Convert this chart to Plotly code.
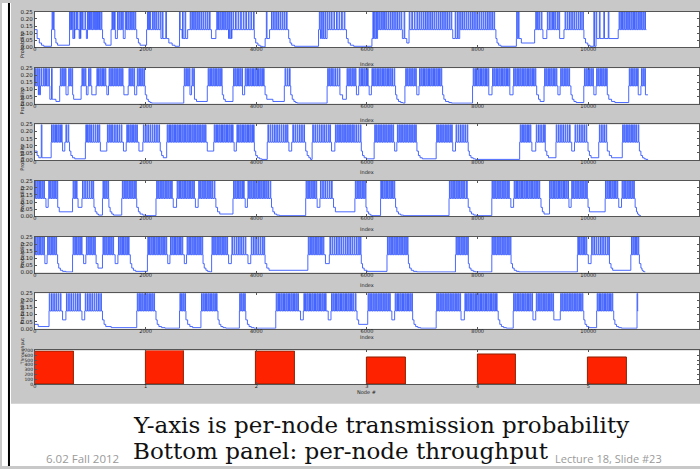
import numpy as np
import plotly.graph_objects as go

W, H = 700, 469

index_ticks = [0, 2000, 4000, 6000, 8000, 10000, 12000]
prob_ticks = [0.0, 0.05, 0.10, 0.15, 0.20, 0.25]
node_ids = [0, 1, 2, 3, 4, 5]
throughput = [685, 690, 675, 550, 625, 555]
node_ticks = [0, 1, 2, 3, 4, 5, 6]
thr_ticks = [0, 100, 200, 300, 400, 500, 600, 700]

# ---- per-node transmission probability: baseline steps (index, p), spikes to 0.25, end index
n1_base = [(0,.125),(40,.0625),(80,.031),(120,.0156),(160,.008),(300,.125),(360,.0625),(380,.031),(410,.0156),
 (626,.125),(680,.0625),(720,.125),(800,.0625),(830,.125),(930,.0625),(950,.125),(1222,.0625),(1250,.031),(1280,.0156),
 (1376,.125),(1454,.0625),(1490,.125),(1590,.0625),(1630,.125),(1840,.0625),(1870,.031),(1900,.0156),
 (2018,.125),(2265,.0625),(2420,.031),(2480,.0156),(2530,.008),(2613,.125),(2660,.0625),(2760,.125),
 (3190,.0625),(3270,.125),(3500,.0625),(3560,.125),(3965,.0625),(3990,.031),(4030,.0156),(4070,.008),(4110,.004),
 (4160,.0625),(4240,.125),(4585,.0625),(4610,.031),(4640,.0156),(4690,.008),(5125,.125),(5160,.0625),(5280,.125),
 (5630,.0625),(5660,.031),(5700,.0156),(5760,.008),(6090,.0625),(6200,.125),(6640,.0625),(6720,.031),(6760,.125),
 (7550,.0625),(7680,.125),(8330,.0625),(8350,.031),(8380,.0156),(8420,.008),(8700,.0625),(8790,.031),(9030,.125),
 (9180,.0625),(9250,.125),(9480,.0625),(9560,.125),(9920,.0625),(9950,.031),(9990,.0156),(10030,.008),
 (10150,.0625),(10540,.125)]
n1_spikes = [310, 335, 626, 650, 673, 704, 742, 765, 812, 835, 858, 905, 951, 974, 997, 1020, 1050, 1074, 1098, 1121,
 1144, 1167, 1198, 1392, 1415, 1438, 1492, 1523, 1554, 1585, 1632, 1655, 1686, 1717, 1748, 1779, 1810,
 2034, 2057, 2080, 2126, 2157, 2188, 2226, 2265, 2303, 2365, 2613, 2667, 2713, 2806, 2837, 2868, 2899, 2930, 2961,
 3000, 3038, 3077, 3115, 3154, 3286, 3317, 3348, 3379, 3410, 3441, 3472, 3503, 3540, 3580, 3625, 3672, 3718, 3765,
 3811, 3857, 3904, 3950, 4182, 4275, 4313, 4352, 4390, 4429, 4468, 4506, 4545, 5140, 5171, 5202, 5241, 5280, 5318,
 5357, 5403, 5450, 5496, 5542, 5589, 6107, 6130, 6161, 6192, 6223, 6254, 6285, 6316, 6347, 6385, 6424, 6463, 6501,
 6540, 6579, 6617, 6671, 6764, 6810, 6856, 6903, 6942, 6980, 7019, 7058, 7096, 7135, 7173, 7212, 7251, 7290, 7328,
 7367, 7405, 7444, 7483, 7521, 7595, 7637, 7676, 7715, 7753, 7792, 7830, 7869, 7908, 7946, 7985, 8024, 8063, 8101,
 8140, 8179, 8217, 8256, 8295, 8705, 8736, 9050, 9080, 9110, 9150, 9260, 9300, 9340, 9370, 9400, 9440, 9470, 9580,
 9620, 9660, 9700, 9740, 9780, 9820, 9860, 9900, 10100, 10140, 10200, 10280, 10360, 10556, 10587, 10618, 10649,
 10680, 10711, 10742, 10773, 10804, 10835, 10866, 10897, 10928, 10959, 10990, 11021]
n1_end = 11050

n2_base = [(0,.125),(62,.0625),(101,.125),(270,.031),(333,.031),(380,.0156),(448,.125),(560,.0625),(600,.125),
 (680,.0625),(700,.031),(835,.125),(930,.0625),(960,.125),(1028,.0625),(1106,.125),(1300,.0625),(1330,.125),
 (1608,.0625),(1685,.125),(1800,.0625),(1840,.125),(1994,.0625),(2020,.031),(2050,.0156),(2080,.008),(2110,.004),
 (2690,.125),(2800,.0625),(2830,.125),(2883,.031),(2920,.0156),(3115,.125),(3386,.0625),(3410,.031),(3440,.0156),
 (3579,.125),(3750,.0625),(3790,.125),(4159,.0625),(4190,.031),(4300,.0156),(4507,.125),(4623,.0625),(4650,.031),
 (4680,.0156),(4710,.008),(4740,.004),(5280,.125),(5512,.0625),(5560,.031),(5628,.125),(5810,.0625),(5850,.125),
 (6040,.0625),(6080,.125),(6517,.0625),(6540,.031),(6570,.0156),(6610,.008),(6650,.004),(6686,.125),(6900,.0625),
 (6940,.125),(7367,.0625),(7390,.031),(7420,.0156),(7480,.008),(7530,.004),(7908,.125),(8200,.0625),(8260,.125),
 (8580,.0625),(8640,.125),(9067,.0625),(9100,.031),(9130,.0156),(9200,.125),(9450,.0625),(9490,.125),(9686,.0625),
 (9710,.031),(9740,.0156),(9780,.008),(9918,.125),(10100,.0625),(10140,.125),(10343,.0625),(10370,.031),
 (10420,.0156),(10480,.008),(10730,.125),(10900,.0625),(10950,.125),(11020,.0625)]
n2_spikes = [10, 40, 70, 110, 150, 180, 210, 250, 300, 460, 490, 520, 550, 610, 640, 670, 850, 880, 910, 970, 1000,
 1120, 1150, 1180, 1210, 1240, 1270, 1340, 1370, 1400, 1430, 1460, 1490, 1520, 1550, 1580, 1700, 1730, 1760, 1790,
 1850, 1880, 1910, 1940, 1970, 2700, 2730, 2760, 2790, 2840, 2870, 3130, 3160, 3190, 3220, 3250, 3280, 3310, 3340,
 3370, 3590, 3620, 3650, 3680, 3710, 3740, 3800, 3830, 3860, 3890, 3920, 3950, 3980, 4010, 4040, 4070, 4100, 4130,
 4520, 4560, 4600, 5290, 5320, 5350, 5380, 5420, 5460, 5500, 5640, 5670, 5700, 5730, 5760, 5790, 5860, 5890, 5920,
 5950, 5980, 6010, 6090, 6120, 6150, 6180, 6210, 6240, 6270, 6300, 6330, 6360, 6390, 6420, 6450, 6490, 6700, 6730,
 6760, 6790, 6820, 6850, 6880, 6950, 6980, 7010, 7040, 7070, 7100, 7130, 7160, 7190, 7220, 7250, 7280, 7310, 7340,
 7920, 7950, 7980, 8010, 8040, 8070, 8100, 8130, 8160, 8190, 8270, 8300, 8330, 8360, 8390, 8420, 8450, 8480, 8510,
 8540, 8570, 8650, 8680, 8710, 8740, 8770, 8800, 8830, 8860, 8890, 8920, 8950, 8980, 9010, 9040, 9210, 9240, 9270,
 9300, 9330, 9360, 9390, 9420, 9500, 9530, 9560, 9590, 9620, 9650, 9930, 9960, 9990, 10020, 10050, 10080, 10150,
 10180, 10210, 10240, 10270, 10300, 10330, 10740, 10770, 10800, 10830, 10860, 10890, 10960, 10990, 11020]
n2_end = 11077

n3_base = [(0,.0625),(40,.031),(70,.0156),(294,.125),(500,.0625),(540,.125),(626,.0625),(650,.031),(680,.0156),
 (720,.008),(912,.125),(1183,.0625),(1299,.125),(1600,.0625),(1650,.125),(1880,.0625),(1950,.125),(2265,.0625),
 (2290,.031),(2320,.0156),(2381,.125),(3115,.0625),(3231,.125),(3600,.0625),(3640,.125),(3966,.0625),(3990,.031),
 (4020,.0156),(4060,.008),(4100,.004),(4198,.125),(4590,.0625),(4640,.125),(4893,.0625),(4920,.031),(4950,.0156),
 (4980,.004),(5009,.125),(5360,.0625),(5420,.125),(5898,.0625),(5920,.031),(5950,.0156),(5990,.008),(6130,.125),
 (6500,.0625),(6540,.125),(6903,.0625),(6930,.031),(6960,.0156),(7000,.008),(7251,.125),(7550,.0625),(7600,.125),
 (7830,.0625),(7850,.031),(7880,.0156),(7920,.008),(7960,.004),(8759,.125),(8980,.0625),(9050,.125),(9222,.0625),
 (9250,.031),(9280,.0156),(9415,.125),(9700,.0625),(9750,.125),(9995,.0625),(10020,.031),(10050,.0156),
 (10188,.125),(10343,.0625),(10380,.031),(10420,.0156),(10614,.125),(10923,.0625),(10950,.031),(10980,.0156),
 (11010,.008),(11040,.004)]
n3_spikes = [115, 300, 330, 360, 390, 420, 450, 480, 560, 600, 920, 950, 980, 1010, 1050, 1090, 1130, 1160, 1310,
 1340, 1370, 1400, 1440, 1480, 1520, 1560, 1660, 1690, 1720, 1750, 1780, 1810, 1840, 1960, 2000, 2040, 2080, 2120,
 2160, 2200, 2240, 2390, 2420, 2450, 2480, 2510, 2540, 2570, 2600, 2630, 2660, 2690, 2720, 2750, 2780, 2810, 2840,
 2870, 2900, 2930, 2960, 2990, 3020, 3050, 3080, 3240, 3270, 3300, 3330, 3360, 3390, 3420, 3450, 3480, 3510, 3540,
 3570, 3650, 3680, 3710, 3740, 3770, 3800, 3830, 3860, 3890, 3920, 3950, 4210, 4250, 4290, 4330, 4370, 4410, 4450,
 4490, 4530, 4560, 4660, 4700, 4740, 4780, 4820, 4860, 5020, 5060, 5100, 5140, 5180, 5220, 5260, 5300, 5330, 5430,
 5460, 5490, 5520, 5550, 5580, 5610, 5640, 5670, 5700, 5730, 5760, 5800, 5840, 5880, 6140, 6170, 6200, 6230, 6260,
 6290, 6320, 6350, 6380, 6410, 6440, 6470, 6550, 6580, 6610, 6640, 6670, 6700, 6730, 6760, 6790, 6820, 6850, 6880,
 7260, 7290, 7320, 7350, 7380, 7410, 7440, 7470, 7500, 7530, 7610, 7650, 7690, 7730, 7770, 7810, 8770, 8800, 8830,
 8860, 8890, 8920, 8950, 9060, 9100, 9140, 9180, 9210, 9420, 9460, 9500, 9540, 9580, 9620, 9660, 9760, 9800, 9840,
 9880, 9920, 9960, 10200, 10240, 10280, 10320, 10620, 10650, 10680, 10710, 10740, 10770, 10800, 10830, 10860, 10900]
n3_end = 11080

n4_base = [(0,.125),(200,.0625),(240,.125),(410,.0625),(440,.031),(680,.125),(780,.0625),(850,.125),(1067,.0625),
 (1090,.031),(1120,.0156),(1150,.008),(1221,.125),(1337,.0625),(1360,.031),(1390,.0156),(1420,.008),(1569,.125),
 (1840,.0625),(1870,.031),(1900,.0156),(1950,.008),(2000,.004),(2188,.125),(2500,.0625),(2560,.125),(2900,.0625),
 (2950,.125),(3270,.0625),(3300,.031),(3340,.0156),(3579,.125),(3800,.0625),(3840,.125),(4275,.0625),(4300,.031),
 (4330,.0156),(4370,.008),(4420,.004),(4893,.125),(5100,.0625),(5150,.125),(5396,.0625),(5430,.031),(5782,.125),
 (5975,.0625),(6000,.031),(6030,.0156),(6060,.008),(6090,.004),(6246,.125),(6517,.0625),(6540,.031),(6570,.0156),
 (6610,.008),(6660,.004),(7483,.125),(7830,.0625),(7860,.031),(7890,.0156),(7930,.008),(7980,.004),(8256,.125),
 (8600,.0625),(8650,.125),(9145,.0625),(9170,.031),(9200,.0156),(9299,.125),(9650,.0625),(9690,.125),(9995,.0625),
 (10020,.031),(10304,.125),(10550,.0625),(10600,.125),(10846,.0625),(10870,.031),(10890,.0156),(10910,.008),
 (10930,.004)]
n4_spikes = [10, 40, 70, 100, 130, 160, 250, 280, 310, 340, 370, 400, 690, 720, 750, 860, 900, 940, 980, 1020, 1050,
 1230, 1260, 1290, 1320, 1580, 1610, 1640, 1670, 1700, 1730, 1760, 1790, 1820, 2200, 2230, 2260, 2290, 2320, 2350,
 2380, 2410, 2440, 2470, 2570, 2600, 2630, 2660, 2690, 2720, 2750, 2780, 2810, 2840, 2870, 2960, 2990, 3020, 3050,
 3080, 3110, 3140, 3170, 3200, 3240, 3590, 3620, 3650, 3680, 3710, 3740, 3770, 3850, 3880, 3910, 3940, 3970, 4000,
 4030, 4060, 4090, 4120, 4150, 4180, 4210, 4250, 4900, 4930, 4960, 4990, 5020, 5050, 5080, 5160, 5200, 5240, 5280,
 5320, 5360, 5790, 5820, 5850, 5880, 5910, 5940, 5970, 6250, 6280, 6310, 6340, 6370, 6400, 6430, 6460, 6490, 7490,
 7520, 7550, 7580, 7610, 7640, 7670, 7700, 7730, 7760, 7800, 8260, 8290, 8320, 8350, 8380, 8410, 8440, 8470, 8500,
 8530, 8560, 8660, 8690, 8720, 8750, 8780, 8810, 8840, 8870, 8900, 8930, 8960, 8990, 9020, 9050, 9080, 9110, 9300,
 9330, 9360, 9390, 9420, 9450, 9480, 9510, 9540, 9570, 9600, 9630, 9700, 9730, 9760, 9790, 9820, 9850, 9880, 9910,
 9940, 9970, 10310, 10340, 10370, 10400, 10430, 10460, 10490, 10520, 10610, 10640, 10670, 10700, 10730, 10760,
 10790, 10820]
n4_end = 10950

n5_base = [(0,.125),(180,.0625),(220,.125),(410,.0625),(430,.031),(460,.0156),(500,.008),(560,.004),(680,.125),
 (880,.0625),(920,.125),(1106,.0625),(1140,.031),(1221,.125),(1450,.0625),(1500,.125),(1724,.0625),(1750,.031),
 (1780,.0156),(1820,.008),(2033,.125),(2400,.0625),(2440,.125),(2700,.0625),(2740,.125),(3038,.0625),(3060,.031),
 (3090,.0156),(3120,.008),(3160,.004),(3193,.125),(3500,.0625),(3550,.125),(3850,.0625),(3900,.125),(4159,.0625),
 (4190,.031),(4230,.0156),(4932,.125),(5250,.0625),(5320,.125),(5898,.0625),(5920,.031),(5950,.0156),(6000,.008),
 (6362,.125),(6749,.0625),(6770,.031),(6800,.0156),(6840,.008),(6900,.004),(7599,.125),(7830,.0625),(7850,.031),
 (7880,.0156),(7920,.008),(7960,.004),(8256,.125),(8604,.0625),(8630,.031),(8660,.0156),(8700,.008),(8750,.004),
 (9802,.125),(10000,.0625),(10050,.125),(10382,.0625),(10410,.031),(10440,.0156),(10768,.125),(10923,.0625),
 (10950,.031),(10970,.0156),(10990,.008),(11010,.004)]
n5_spikes = [10, 40, 70, 100, 130, 160, 230, 260, 290, 320, 350, 380, 690, 720, 750, 780, 810, 840, 930, 960, 990,
 1020, 1050, 1080, 1230, 1260, 1290, 1320, 1350, 1380, 1410, 1510, 1540, 1570, 1600, 1630, 1660, 1690, 2040, 2070,
 2100, 2130, 2160, 2190, 2220, 2250, 2280, 2310, 2340, 2370, 2450, 2480, 2510, 2540, 2570, 2600, 2630, 2660, 2750,
 2780, 2810, 2840, 2870, 2900, 2930, 2960, 2990, 3020, 3200, 3230, 3260, 3290, 3320, 3350, 3380, 3410, 3440, 3470,
 3560, 3600, 3640, 3680, 3720, 3760, 3800, 3910, 3950, 3990, 4030, 4070, 4110, 4140, 4940, 4970, 5000, 5030, 5060,
 5090, 5120, 5150, 5180, 5210, 5330, 5370, 5410, 5450, 5490, 5530, 5570, 5610, 5650, 5690, 5730, 5770, 5810, 5850,
 5880, 6370, 6400, 6430, 6460, 6490, 6520, 6550, 6580, 6610, 6640, 6670, 6700, 6730, 7610, 7640, 7670, 7700, 7730,
 7760, 7790, 7820, 8260, 8290, 8320, 8350, 8380, 8410, 8440, 8470, 8500, 8530, 8560, 8590, 9810, 9840, 9870, 9900,
 9930, 9960, 10060, 10100, 10140, 10180, 10220, 10260, 10300, 10340, 10370, 10780, 10810, 10840, 10870, 10900]
n5_end = 11030

n6_base = [(0,.031),(60,.0156),(255,.125),(500,.0625),(560,.125),(850,.0625),(900,.125),(1221,.0625),(1250,.031),
 (1280,.0156),(1380,.008),(1840,.125),(2188,.0625),(2210,.031),(2240,.0156),(2290,.008),(2350,.004),(2613,.125),
 (2729,.0625),(2760,.031),(2800,.0156),(2850,.008),(3000,.125),(3308,.0625),(3330,.031),(3360,.0156),(3400,.008),
 (3450,.004),(3695,.125),(3811,.0625),(3840,.031),(3870,.0156),(3910,.008),(3960,.004),(4352,.125),(4800,.0625),
 (4850,.125),(5300,.0625),(5350,.125),(5821,.0625),(5850,.031),(6014,.125),(6450,.0625),(6500,.125),(6826,.0625),
 (6850,.031),(6880,.0156),(6920,.008),(6970,.004),(7251,.125),(7700,.0625),(7760,.125),(8372,.0625),(8400,.031),
 (8430,.0156),(8470,.008),(8520,.004),(8643,.125),(9000,.0625),(9050,.125),(9377,.0625),(9493,.125),(9918,.0625),
 (9940,.031),(9970,.0156),(10010,.008),(10150,.125),(10459,.0625),(10480,.031),(10510,.0156),(10550,.008),
 (10600,.004),(10880,.125)]
n6_spikes = [260, 300, 340, 380, 420, 460, 570, 610, 650, 690, 730, 770, 810, 910, 950, 990, 1030, 1070, 1110, 1150,
 1190, 1850, 1880, 1910, 1940, 1970, 2000, 2030, 2060, 2090, 2120, 2150, 2620, 2650, 2680, 2710, 3010, 3040, 3070,
 3100, 3130, 3160, 3190, 3220, 3250, 3280, 3700, 3730, 3760, 3790, 4360, 4390, 4420, 4450, 4480, 4510, 4540, 4570,
 4600, 4630, 4660, 4690, 4720, 4750, 4860, 4890, 4920, 4950, 4980, 5010, 5040, 5070, 5100, 5130, 5160, 5190, 5220,
 5250, 5360, 5390, 5420, 5450, 5480, 5510, 5540, 5570, 5600, 5630, 5660, 5690, 5720, 5750, 5790, 6020, 6050, 6080,
 6110, 6140, 6170, 6200, 6230, 6260, 6290, 6320, 6350, 6380, 6410, 6510, 6540, 6570, 6600, 6630, 6660, 6690, 6720,
 6750, 6780, 6810, 7260, 7290, 7320, 7350, 7380, 7410, 7440, 7470, 7500, 7530, 7560, 7590, 7620, 7650, 7680, 7770,
 7800, 7830, 7860, 7890, 7920, 7950, 7980, 8010, 8040, 8070, 8100, 8130, 8160, 8190, 8220, 8250, 8280, 8310, 8340,
 8650, 8680, 8710, 8740, 8770, 8800, 8830, 8860, 8890, 8920, 8950, 8980, 9060, 9090, 9120, 9150, 9180, 9210, 9240,
 9270, 9300, 9330, 9360, 9500, 9530, 9560, 9590, 9620, 9650, 9680, 9710, 9740, 9770, 9800, 9830, 9860, 9890, 10160,
 10190, 10220, 10250, 10280, 10310, 10340, 10370, 10400, 10430, 10880]
n6_end = 10900

nodes_data = [(n1_base, n1_spikes, n1_end), (n2_base, n2_spikes, n2_end), (n3_base, n3_spikes, n3_end),
              (n4_base, n4_spikes, n4_end), (n5_base, n5_spikes, n5_end), (n6_base, n6_spikes, n6_end)]

SPIKE_W = 12  # width of a 0.25 excursion (index units)


def build(base, spikes, end):
    bx = np.array([b[0] for b in base], dtype=float)
    bp = np.array([b[1] for b in base], dtype=float)
    sp = np.array(spikes, dtype=float)
    pts = sorted(set(bx.tolist()) | set(sp.tolist()) | set((sp + SPIKE_W).tolist()) | {float(end)})
    pts = [p for p in pts if p <= end]
    ys = []
    for p in pts:
        if np.any((sp <= p) & (p < sp + SPIKE_W)):
            ys.append(0.25)
        else:
            ys.append(float(bp[np.searchsorted(bx, p, side="right") - 1]))
    return pts, ys


def px_x(v):
    return v / W


def px_y(v):
    return 1 - v / H


fig = go.Figure()
LINE = "#3558ff"
FRAME = "#555555"
GRAY = "#c8c8c8"
DARK = "#222222"

X0, X1 = 33, 699
layout_axes = {}
annotations = []
for k, (base, spikes, end) in enumerate(nodes_data):
    xs, ys = build(base, spikes, end)
    n = k + 1
    xa = "x" if n == 1 else f"x{n}"
    ya = "y" if n == 1 else f"y{n}"
    fig.add_trace(go.Scatter(x=xs, y=ys, mode="lines", line=dict(color=LINE, width=0.9, shape="hv"),
                             xaxis=xa, yaxis=ya, showlegend=False, hoverinfo="skip"))
    top = 9 + 57 * k
    bot = top + 36
    xkey = "xaxis" if n == 1 else f"xaxis{n}"
    ykey = "yaxis" if n == 1 else f"yaxis{n}"
    layout_axes[xkey] = dict(domain=[px_x(X0), px_x(X1)], range=[0, 12000], anchor=ya,
                             tickvals=index_ticks, ticktext=[str(t) for t in index_ticks],
                             ticks="inside", ticklen=2, tickcolor=FRAME, showline=True, linecolor=FRAME,
                             linewidth=1, mirror="ticks", showgrid=False, zeroline=False,
                             tickfont=dict(family="DejaVu Sans", size=5, color=DARK), ticklabelstandoff=-3)
    layout_axes[ykey] = dict(domain=[px_y(bot), px_y(top)], range=[0, 0.25], anchor=xa,
                             tickvals=prob_ticks, ticktext=[f"{t:.2f}" for t in prob_ticks],
                             ticks="inside", ticklen=2, tickcolor=FRAME, showline=True, linecolor=FRAME,
                             linewidth=1, mirror="ticks", showgrid=False, zeroline=False,
                             tickfont=dict(family="DejaVu Sans", size=5.5, color=DARK))
    annotations.append(dict(text="Probability", x=px_x(15), y=px_y(top + 18), xref="paper", yref="paper",
                            textangle=-90, showarrow=False, font=dict(family="DejaVu Sans", size=5, color=DARK)))
    annotations.append(dict(text="Index", x=px_x(366), y=px_y(bot + 12.5), xref="paper", yref="paper",
                            showarrow=False, borderpad=0, font=dict(family="DejaVu Sans", size=5, color=DARK)))

# throughput bar panel
fig.add_trace(go.Bar(x=node_ids, y=throughput, width=0.35, offset=0,
                     marker=dict(color="#ff2200", line=dict(color="#8a2000", width=1)),
                     xaxis="x7", yaxis="y7", showlegend=False, hoverinfo="skip"))
btop, bbot = 352, 386
layout_axes["xaxis7"] = dict(domain=[px_x(X0), px_x(X1)], range=[0, 6], anchor="y7", tickvals=node_ticks,
                             ticks="inside", ticklen=2, tickcolor=FRAME, showline=True, linecolor=FRAME,
                             linewidth=1, mirror="ticks", showgrid=False, zeroline=False,
                             tickfont=dict(family="DejaVu Sans", size=5, color=DARK), ticklabelstandoff=-3)
layout_axes["yaxis7"] = dict(domain=[px_y(bbot), px_y(btop)], range=[0, 700], anchor="x7", tickvals=thr_ticks,
                             ticks="inside", ticklen=2, tickcolor=FRAME, showline=True, linecolor=FRAME,
                             linewidth=1, mirror="ticks", showgrid=False, zeroline=False,
                             tickfont=dict(family="DejaVu Sans", size=4.5, color=DARK))
annotations.append(dict(text="Throughput", x=px_x(16), y=px_y((btop + bbot) / 2), xref="paper", yref="paper",
                        textangle=-90, showarrow=False, font=dict(family="DejaVu Sans", size=4.5, color=DARK)))
annotations.append(dict(text="Node #", x=px_x(366), y=px_y(bbot + 12.5), xref="paper", yref="paper",
                        showarrow=False, borderpad=0, font=dict(family="DejaVu Sans", size=5, color=DARK)))

# slide text
annotations.append(dict(text="Y-axis is per-node transmission probability", x=px_x(129), y=px_y(427),
                        xref="paper", yref="paper", xanchor="left", yanchor="middle", showarrow=False,
                        font=dict(family="DejaVu Serif", size=23, color="#111")))
annotations.append(dict(text="Bottom panel: per-node throughput", x=px_x(129), y=px_y(454),
                        xref="paper", yref="paper", xanchor="left", yanchor="middle", showarrow=False,
                        font=dict(family="DejaVu Serif", size=23, color="#111")))
annotations.append(dict(text="6.02 Fall 2012", x=px_x(42), y=px_y(461), xref="paper", yref="paper",
                        xanchor="left", yanchor="middle", showarrow=False,
                        font=dict(family="Open Sans", size=11.5, color="#9a9a9a")))
annotations.append(dict(text="Lecture 18, Slide #23", x=px_x(553), y=px_y(461), xref="paper", yref="paper",
                        xanchor="left", yanchor="middle", showarrow=False,
                        font=dict(family="Open Sans", size=11, color="#9a9a9a")))

shapes = [
    dict(type="rect", xref="paper", yref="paper", x0=0, x1=px_x(9), y0=0, y1=1,
         fillcolor="white", line=dict(width=0), layer="below"),
    dict(type="rect", xref="paper", yref="paper", x0=0, x1=1, y0=0, y1=px_y(406),
         fillcolor="white", line=dict(width=0), layer="below"),
    dict(type="line", xref="paper", yref="paper", x0=px_x(7), x1=px_x(7), y0=0, y1=1,
         line=dict(color="#000", width=2)),
]

fig.update_layout(width=W, height=H, margin=dict(l=0, r=0, t=0, b=0), paper_bgcolor=GRAY,
                  plot_bgcolor="white", shapes=shapes, annotations=annotations, bargap=0, **layout_axes)
fig.write_html("out.html", config={"displayModeBar": False},
               post_script="document.body.style.margin='0';document.body.style.overflow='hidden';")
